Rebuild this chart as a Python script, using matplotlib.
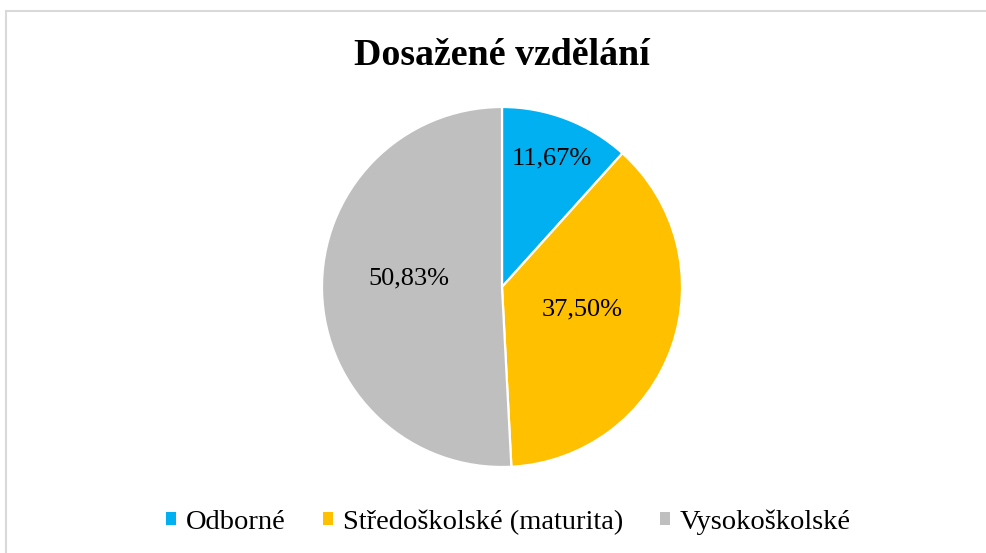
import matplotlib
matplotlib.use("Agg")
import matplotlib.pyplot as plt
import numpy as np
from matplotlib.patches import Rectangle, Patch

categories = ["Odborné", "Středoškolské (maturita)", "Vysokoškolské"]
values = [11.67, 37.50, 50.83]
labels = ["11,67%", "37,50%", "50,83%"]
colors = ["#00B0F0", "#FFC000", "#BFBFBF"]
label_dist = [0.765, 0.46, 0.52]
label_angle_shift = [0, 4, -7]

plt.rcParams['font.family'] = ['Liberation Serif', 'DejaVu Serif']

W, H = 986, 553
fig = plt.figure(figsize=(W/100, H/100), dpi=100)

# chart border
fig.patches.append(Rectangle((6/W, -0.2), 1.2, 1.2 - 11/H, transform=fig.transFigure,
                             fill=False, edgecolor="#D9D9D9", linewidth=1.5))

cx, cy, r = 502, 287, 180
ax = fig.add_axes([(cx - r)/W, (H - cy - r)/H, 2*r/W, 2*r/H])
wedges, _ = ax.pie(values, colors=colors, startangle=90, counterclock=False,
                   radius=1, wedgeprops=dict(edgecolor="white", linewidth=1.6))
ax.set_xlim(-1, 1)
ax.set_ylim(-1, 1)
ax.set_aspect('equal')
ax.axis('off')

for w, lab, d, s in zip(wedges, labels, label_dist, label_angle_shift):
    ang = np.deg2rad((w.theta1 + w.theta2) / 2 + s)
    ax.text(d*np.cos(ang), d*np.sin(ang), lab, ha='center', va='center',
            fontsize=19, color='black')

fig.text(cx/W, 1 - 55/H, "Dosažené vzdělání", ha='center', va='center',
         fontsize=27.3, fontweight='bold')

handles = [Patch(facecolor=c, edgecolor='none') for c in colors]
fig.legend(handles, categories, loc='center', bbox_to_anchor=(508.5/W, 1 - 522/H),
           ncol=3, frameon=False, fontsize=20.5, handlelength=0.35, handleheight=0.35,
           handletextpad=0.35, columnspacing=1.3, borderpad=0, borderaxespad=0)

fig.savefig("out.png", dpi=100)
